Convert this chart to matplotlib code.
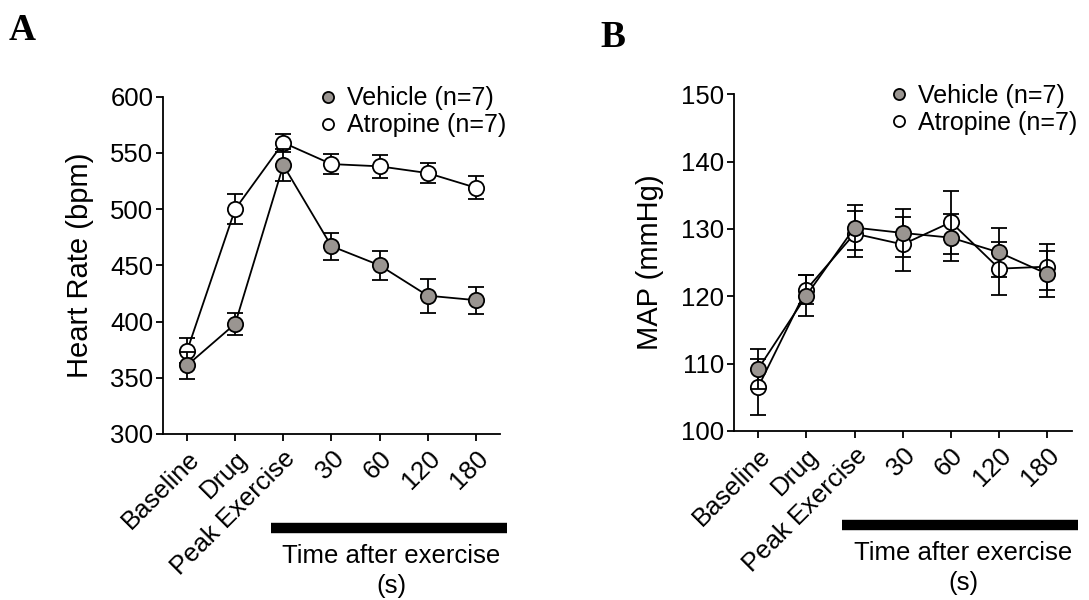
import matplotlib.pyplot as plt
from matplotlib.lines import Line2D
import matplotlib.transforms as mtransforms

plt.rcParams['font.family'] = ['Liberation Sans', 'DejaVu Sans']

categories = ['Baseline', 'Drug', 'Peak Exercise', '30', '60', '120', '180']

# Panel A: heart rate (bpm)
hr_vehicle = [361, 398, 539, 467, 450, 423, 419]
hr_vehicle_err = [12, 10, 14, 12, 13, 15, 12]
hr_atropine = [374, 500, 559, 540, 538, 532, 519]
hr_atropine_err = [11, 13, 8, 9, 10, 9, 10]

# Panel B: mean arterial pressure (mmHg)
map_vehicle = [109.2, 120.1, 130.2, 129.4, 128.7, 126.5, 123.3]
map_vehicle_err = [3.0, 3.0, 3.4, 3.6, 3.5, 3.6, 3.4]
map_atropine = [106.5, 121.0, 129.3, 127.7, 131.0, 124.1, 124.4]
map_atropine_err = [4.2, 2.2, 3.4, 4.0, 4.7, 3.9, 3.4]

GRAY = '#9a9591'
FS = 18.5

fig = plt.figure(figsize=(10.89, 6.0), dpi=100)
axA = fig.add_axes([0.1497, 0.2767, 0.3093, 0.5623])
axB = fig.add_axes([0.674, 0.2817, 0.310, 0.5613])


def draw_panel(ax, veh, veh_err, atr, atr_err, ylim, yticks, ylabel):
    x = list(range(len(categories)))
    ax.errorbar(x, atr, yerr=atr_err, color='black', lw=1.3, capsize=6,
                capthick=1.3, elinewidth=1.3, marker='o', markersize=11,
                markerfacecolor='white', markeredgecolor='black',
                markeredgewidth=1.3, zorder=3)
    ax.errorbar(x, veh, yerr=veh_err, color='black', lw=1.3, capsize=6,
                capthick=1.3, elinewidth=1.3, marker='o', markersize=11,
                markerfacecolor=GRAY, markeredgecolor='black',
                markeredgewidth=1.3, zorder=4)
    ax.set_xlim(-0.5, 6.5)
    ax.set_ylim(*ylim)
    ax.set_yticks(yticks)
    ax.set_xticks(x)
    ax.set_xticklabels(categories, rotation=45, ha='right',
                       rotation_mode='anchor', fontsize=FS)
    ax.tick_params(axis='y', labelsize=FS, length=5, width=1.3, direction='out', pad=2)
    ax.tick_params(axis='x', length=5, width=1.3, direction='out', pad=4)
    ax.set_ylabel(ylabel, fontsize=21, labelpad=12)
    for s in ['top', 'right']:
        ax.spines[s].set_visible(False)
    for s in ['left', 'bottom']:
        ax.spines[s].set_linewidth(1.3)

    # bar marking time after exercise
    trans = mtransforms.blended_transform_factory(ax.transData, ax.transAxes)
    ax.plot([1.74, 6.64], [-0.279, -0.279], color='black', lw=7.5,
            solid_capstyle='butt', transform=trans, clip_on=False)
    ax.text(4.25, -0.362, 'Time after exercise', transform=trans,
            ha='center', va='center', fontsize=FS)
    ax.text(4.25, -0.45, '(s)', transform=trans,
            ha='center', va='center', fontsize=FS)

    handles = [
        Line2D([], [], ls='none', marker='o', markersize=8,
               markerfacecolor=GRAY, markeredgecolor='black', markeredgewidth=1.3),
        Line2D([], [], ls='none', marker='o', markersize=8,
               markerfacecolor='white', markeredgecolor='black', markeredgewidth=1.3),
    ]
    ax.legend(handles, ['Vehicle (n=7)', 'Atropine (n=7)'], loc='upper left',
              bbox_to_anchor=(0.43, 1.06), frameon=False, fontsize=18,
              handlelength=0.8, handletextpad=0.35, labelspacing=0.12,
              borderaxespad=0)


draw_panel(axA, hr_vehicle, hr_vehicle_err, hr_atropine, hr_atropine_err,
           (300, 600), [300, 350, 400, 450, 500, 550, 600], 'Heart Rate (bpm)')
draw_panel(axB, map_vehicle, map_vehicle_err, map_atropine, map_atropine_err,
           (100, 150), [100, 110, 120, 130, 140, 150], 'MAP (mmHg)')

fig.text(0.008, 0.978, 'A', fontsize=27, fontweight='bold',
         family=['Liberation Serif', 'DejaVu Serif'], va='top')
fig.text(0.551, 0.966, 'B', fontsize=27, fontweight='bold',
         family=['Liberation Serif', 'DejaVu Serif'], va='top')

fig.savefig('out.png', dpi=100)
